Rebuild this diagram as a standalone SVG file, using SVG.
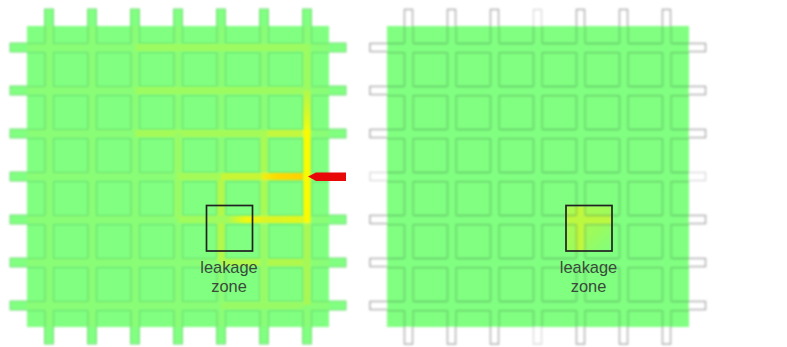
<svg xmlns="http://www.w3.org/2000/svg" width="787" height="347" viewBox="0 0 787 347">
<style>
.body{fill:#80ff80}
.lab{font-family:"Liberation Sans",Arial,sans-serif;font-size:16.400px;fill:#3a4a3a;text-anchor:middle}
.box{fill:none;stroke:#222;stroke-width:1.7}
.sl{fill:#80ff80;stroke:#78dc7c;stroke-width:1}
.sr{fill:#fff;stroke:#b0b0b0;stroke-width:1.5}
.sf{fill:#fff;stroke:#dedede;stroke-width:1.5}
</style>
<defs>
<filter id="b" x="-5%" y="-5%" width="110%" height="110%"><feGaussianBlur stdDeviation="0.8"/></filter>
<filter id="b2" x="-5%" y="-5%" width="110%" height="110%"><feGaussianBlur stdDeviation="1.2"/></filter>
<pattern id="cl" patternUnits="userSpaceOnUse" x="10" y="9" width="43" height="43"><rect x="0.5" y="0.5" width="34.5" height="34" rx="1" fill="none" stroke="#3d8a4a" stroke-opacity="0.3" stroke-width="1.2"/></pattern>
<pattern id="cr" patternUnits="userSpaceOnUse" x="369.500" y="9" width="43" height="43"><rect x="0.5" y="0.5" width="34.500" height="34" rx="1" fill="none" stroke="#3f6f4b" stroke-opacity="0.38" stroke-width="1.3"/></pattern>
<linearGradient id="g1" gradientUnits="userSpaceOnUse" x1="303" x2="262" y1="0" y2="0"><stop offset="0" stop-color="#ffd000"/><stop offset="0.6" stop-color="#ffd800"/><stop offset="1" stop-color="#f0f010"/></linearGradient>
<linearGradient id="g2" gradientUnits="userSpaceOnUse" x1="303" x2="228" y1="0" y2="0"><stop offset="0" stop-color="#e4f61c"/><stop offset="0.5" stop-color="#dcf424"/><stop offset="0.75" stop-color="#f4f80c"/><stop offset="1" stop-color="#a8fa54"/></linearGradient>
<linearGradient id="g4" gradientUnits="userSpaceOnUse" x1="0" x2="0" y1="90" y2="134"><stop offset="0" stop-color="#b0f84c"/><stop offset="0.5" stop-color="#d4f82a"/><stop offset="1" stop-color="#f8fc08"/></linearGradient>
<linearGradient id="g5" x1="0" x2="1" y1="0" y2="1"><stop offset="0" stop-color="#b0fb4c"/><stop offset="0.6" stop-color="#9cfb5c"/><stop offset="1" stop-color="#80ff80"/></linearGradient>
<clipPath id="cb"><rect x="566" y="206" width="46" height="45"/></clipPath>
</defs>
<g id="left-panel">
<g filter="url(#b)">
<g id="left-stubs">
<rect class="sl" x="44.500" y="9" width="9" height="20"/><rect class="sl" x="87.500" y="9" width="9" height="20"/><rect class="sl" x="130.500" y="9" width="9" height="20"/><rect class="sl" x="173.500" y="9" width="9" height="20"/><rect class="sl" x="216.500" y="9" width="9" height="20"/><rect class="sl" x="259.500" y="9" width="9" height="20"/><rect class="sl" x="302.500" y="9" width="9" height="20"/>
<rect class="sl" x="44.500" y="324" width="9" height="20"/><rect class="sl" x="87.500" y="324" width="9" height="20"/><rect class="sl" x="130.500" y="324" width="9" height="20"/><rect class="sl" x="173.500" y="324" width="9" height="20"/><rect class="sl" x="216.500" y="324" width="9" height="20"/><rect class="sl" x="259.500" y="324" width="9" height="20"/><rect class="sl" x="302.500" y="324" width="9" height="20"/>
<rect class="sl" x="10" y="43" width="20" height="9"/><rect class="sl" x="10" y="86" width="20" height="9"/><rect class="sl" x="10" y="129" width="20" height="9"/><rect class="sl" x="10" y="172" width="20" height="9"/><rect class="sl" x="10" y="215" width="20" height="9"/><rect class="sl" x="10" y="258" width="20" height="9"/><rect class="sl" x="10" y="301" width="20" height="9"/>
<rect class="sl" x="326" y="43" width="20" height="9"/><rect class="sl" x="326" y="86" width="20" height="9"/><rect class="sl" x="326" y="129" width="20" height="9"/><rect class="sl" x="326" y="215" width="20" height="9"/><rect class="sl" x="326" y="258" width="20" height="9"/><rect class="sl" x="326" y="301" width="20" height="9"/>
</g>
<rect class="body" x="27" y="26" width="302" height="301"/>
<g id="left-base-channels" stroke="#8afd76" stroke-width="7" fill="none">
<path d="M27 47.500H329M27 90.500H329M27 133.500H329M27 176.500H329M27 219.500H329M27 262.500H329M27 305.500H329"/>
<path d="M49 26V327M92 26V327M135 26V327M178 26V327M221 26V327M264 26V327M307 26V327"/>
</g>
<rect x="27" y="26" width="302" height="301" fill="url(#cl)"/>
</g>
<g id="left-heat" fill="none" stroke-width="7" filter="url(#b2)">
<path d="M135 47.500H307V90" stroke="#9cfb60"/>
<path d="M135 90.500H303" stroke="#9cfb60"/>
<path d="M135 133.500H264" stroke="#a4fb58"/>
<path d="M264 133.500H303" stroke="#c4f83c"/>
<path d="M307 90V134" stroke="url(#g4)"/>
<path d="M264 130V219" stroke="#a8fa54"/>
<path d="M178 133V219" stroke="#98fb66"/>
<path d="M221 176V262" stroke="#b4f848"/>
<path d="M178 176.500H221" stroke="#a4fb58"/>
<path d="M221 176.500H264" stroke="#c8f636"/>
<path d="M262 176.500H303" stroke="url(#g1)"/>
<path d="M307 130V223" stroke="#fcfa04"/>
<path d="M228 219.500H303" stroke="url(#g2)"/>
<path d="M307 223V305" stroke="#a8f854"/>
<path d="M221 262.500H303" stroke="#b0f84c"/>
<path d="M221 305.500H303M264 223V305" stroke="#98fb66"/>
<path d="M178 219.500H228" stroke="#a0fb5c"/>
</g>
</g>
<g id="right-panel">
<g filter="url(#b)">
<g id="right-stubs">
<rect class="sr" x="404.500" y="9.500" width="8" height="20"/><rect class="sr" x="447.500" y="9.500" width="8" height="20"/><rect class="sr" x="490.500" y="9.500" width="8" height="20"/><rect class="sf" x="533.500" y="9.500" width="8" height="20"/><rect class="sr" x="576.500" y="9.500" width="8" height="20"/><rect class="sr" x="619.500" y="9.500" width="8" height="20"/><rect class="sr" x="662.500" y="9.500" width="8" height="20"/>
<rect class="sr" x="404.500" y="324" width="8" height="20"/><rect class="sr" x="447.500" y="324" width="8" height="20"/><rect class="sr" x="490.500" y="324" width="8" height="20"/><rect class="sf" x="533.500" y="324" width="8" height="20"/><rect class="sr" x="576.500" y="324" width="8" height="20"/><rect class="sr" x="619.500" y="324" width="8" height="20"/><rect class="sr" x="662.500" y="324" width="8" height="20"/>
<rect class="sr" x="370" y="43.500" width="20" height="8"/><rect class="sr" x="370" y="86.500" width="20" height="8"/><rect class="sr" x="370" y="129.500" width="20" height="8"/><rect class="sf" x="370" y="172.500" width="20" height="8"/><rect class="sr" x="370" y="215.500" width="20" height="8"/><rect class="sr" x="370" y="258.500" width="20" height="8"/><rect class="sr" x="370" y="301.500" width="20" height="8"/>
<rect class="sr" x="685.500" y="43.500" width="20" height="8"/><rect class="sr" x="685.500" y="86.500" width="20" height="8"/><rect class="sr" x="685.500" y="129.500" width="20" height="8"/><rect class="sf" x="685.500" y="172.500" width="20" height="8"/><rect class="sr" x="685.500" y="215.500" width="20" height="8"/><rect class="sr" x="685.500" y="258.500" width="20" height="8"/><rect class="sr" x="685.500" y="301.500" width="20" height="8"/>
</g>
<rect class="body" x="387" y="26" width="302" height="301"/>
<g clip-path="url(#cb)">
<rect x="566" y="206" width="46" height="45" fill="url(#g5)"/>
<path d="M580 205V251" stroke="#c0f83c" stroke-width="8" fill="none"/>
<path d="M566 219.500H612" stroke="#bcf840" stroke-width="8" fill="none"/>
</g>
<rect x="387" y="26" width="302" height="301" fill="url(#cr)"/>
</g>
</g>
<g id="arrow">
<path d="M346 172.500H316L308 176.500L316 181H346Z" fill="#e80808"/>
</g>
<g id="leakage-left">
<rect class="box" x="206.500" y="205.500" width="46" height="45.500"/>
<text class="lab" x="229" y="273">leakage</text>
<text class="lab" x="229" y="292">zone</text>
</g>
<g id="leakage-right">
<rect class="box" x="566" y="205.500" width="46" height="45.500"/>
<text class="lab" x="588.500" y="273">leakage</text>
<text class="lab" x="588.500" y="292">zone</text>
</g>
</svg>
